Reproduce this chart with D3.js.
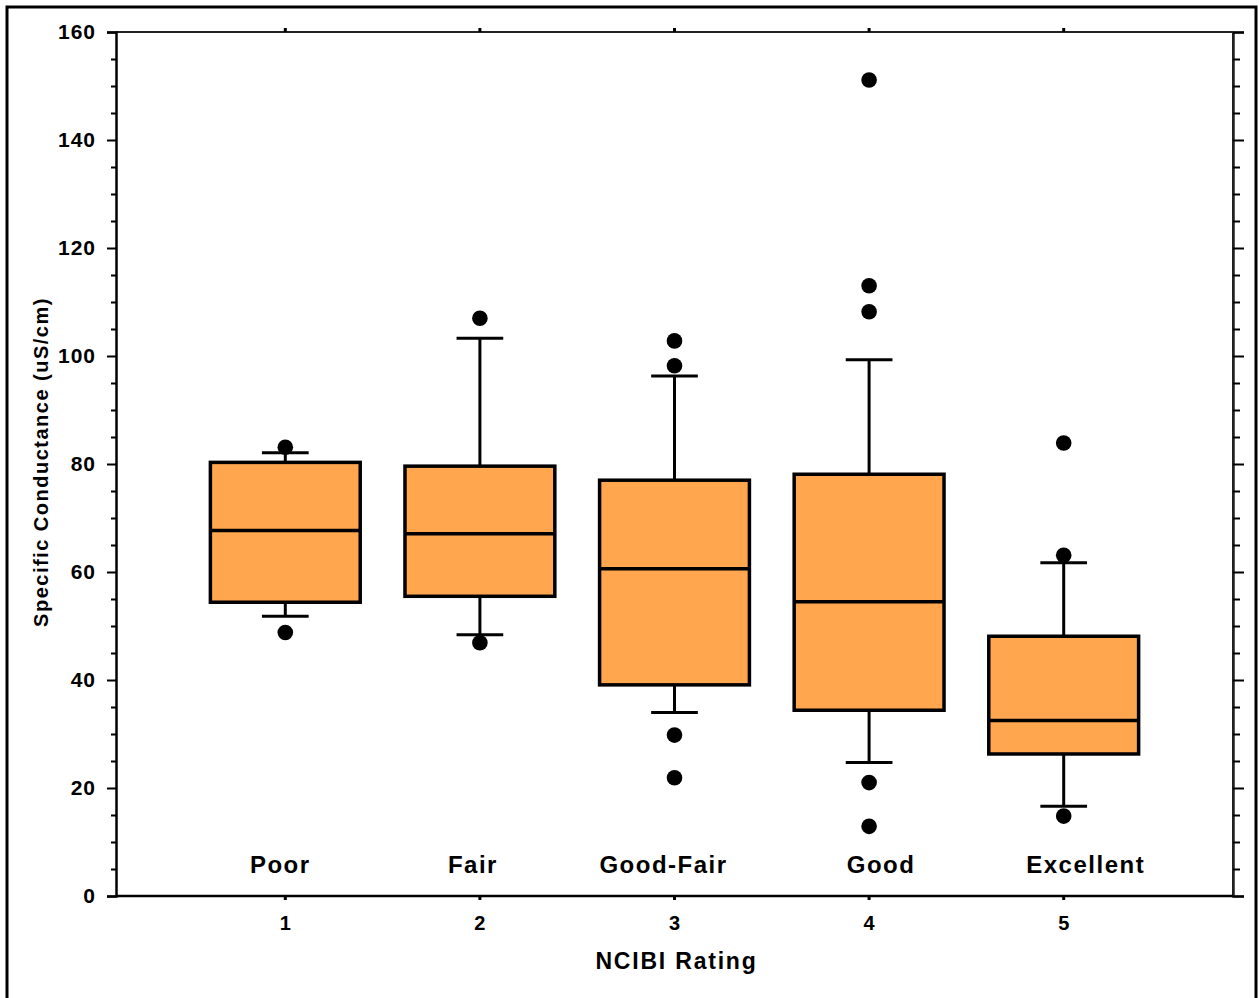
<!DOCTYPE html>
<html>
<head>
<meta charset="utf-8">
<script src="https://cdn.jsdelivr.net/npm/d3@7"></script>
<style>
  body { margin: 0; background: #fff; }
  text { font-family: "Liberation Sans", Arial, sans-serif; font-weight: bold; fill: #000; }
</style>
</head>
<body>
<div id="chart"></div>
<script>
// box plot summary per NCIBI rating
const ratings = [1, 2, 3, 4, 5];
const categories = ["Poor", "Fair", "Good-Fair", "Good", "Excellent"];
const whiskerLow = [51.8, 48.4, 34.0, 24.7, 16.6];
const q1 = [54.4, 55.5, 39.1, 34.4, 26.3];
const medians = [67.7, 67.1, 60.6, 54.5, 32.5];
const q3 = [80.3, 79.6, 77.0, 78.1, 48.1];
const whiskerHigh = [82.1, 103.3, 96.3, 99.3, 61.7];
const outliers = [
  [83.1, 48.8],
  [107.0, 46.9],
  [102.8, 98.2, 29.8, 21.9],
  [151.1, 113.0, 108.2, 21.0, 12.9],
  [83.9, 63.1, 14.8]
];
const yTicks = [0, 20, 40, 60, 80, 100, 120, 140, 160];
const yMinorTicks = d3.range(0, 161, 5).filter(d => d % 20 !== 0);
const xTickLabels = ["1", "2", "3", "4", "5"];

const W = 1259, H = 998;
const margin = {top: 32, right: 26, bottom: 102, left: 116};
const width = W - margin.left - margin.right,
      height = H - margin.top - margin.bottom;

const svg = d3.select("#chart").append("svg")
    .attr("width", W)
    .attr("height", H);

// outer frame
svg.append("rect")
    .attr("x", 7).attr("y", 7)
    .attr("width", 1249).attr("height", 1000)
    .attr("fill", "none")
    .attr("stroke", "#000")
    .attr("stroke-width", 3);

const g = svg.append("g")
    .attr("transform", "translate(" + margin.left + "," + margin.top + ")");

const x = d3.scaleLinear().domain([0.13, 5.87]).range([0, width]);
const y = d3.scaleLinear().domain([0, 160]).range([height, 0]);

// top & right frame lines
g.append("line").attr("x1", 0).attr("x2", width).attr("y1", 0).attr("y2", 0)
    .attr("stroke", "#222").attr("stroke-width", 2);
g.append("line").attr("x1", width).attr("x2", width).attr("y1", 0).attr("y2", height)
    .attr("stroke", "#222").attr("stroke-width", 2);

// left axis, major + minor
const yAxis = g.append("g")
    .call(d3.axisLeft(y).tickValues(yTicks).tickSize(9).tickPadding(11));
yAxis.selectAll("text")
    .style("font-size", "21px")
    .style("letter-spacing", "1px");
g.append("g")
    .call(d3.axisLeft(y).tickValues(yMinorTicks).tickSize(5).tickFormat(""))
    .select(".domain").remove();

// right axis (ticks pointing out)
const rAxis = g.append("g").attr("transform", "translate(" + width + ",0)");
rAxis.call(d3.axisRight(y).tickValues(yTicks).tickSize(11).tickFormat(""));
rAxis.append("g")
    .call(d3.axisRight(y).tickValues(yMinorTicks).tickSize(7).tickFormat(""))
    .select(".domain").remove();
rAxis.select(".domain").attr("stroke", "#222");

g.selectAll(".domain").attr("stroke-width", 2.5);
g.selectAll(".tick line").attr("stroke-width", 2);

// bottom axis line and small ticks
g.append("line").attr("x1", 0).attr("x2", width).attr("y1", height).attr("y2", height)
    .attr("stroke", "#000").attr("stroke-width", 2.5);
g.selectAll(".xtick-b").data(ratings).join("line")
    .attr("x1", d => x(d)).attr("x2", d => x(d))
    .attr("y1", height).attr("y2", height + 4)
    .attr("stroke", "#000").attr("stroke-width", 3);
g.selectAll(".xtick-t").data(ratings).join("line")
    .attr("x1", d => x(d)).attr("x2", d => x(d))
    .attr("y1", 0).attr("y2", -4)
    .attr("stroke", "#000").attr("stroke-width", 3);

g.selectAll(".xlabel").data(ratings).join("text")
    .attr("x", d => x(d))
    .attr("y", height + 34)
    .attr("text-anchor", "middle")
    .style("font-size", "20px")
    .text((d, i) => xTickLabels[i]);

// boxes
const boxW = x(1.385) - x(1);
const capW = x(1.12) - x(1);

const boxes = g.selectAll(".box").data(ratings).join("g").attr("class", "box");

boxes.append("line")
    .attr("x1", d => x(d)).attr("x2", d => x(d))
    .attr("y1", (d, i) => y(whiskerHigh[i])).attr("y2", (d, i) => y(q3[i]))
    .attr("stroke", "#000").attr("stroke-width", 3);
boxes.append("line")
    .attr("x1", d => x(d)).attr("x2", d => x(d))
    .attr("y1", (d, i) => y(q1[i])).attr("y2", (d, i) => y(whiskerLow[i]))
    .attr("stroke", "#000").attr("stroke-width", 3);
boxes.append("line")
    .attr("x1", d => x(d) - capW).attr("x2", d => x(d) + capW)
    .attr("y1", (d, i) => y(whiskerHigh[i])).attr("y2", (d, i) => y(whiskerHigh[i]))
    .attr("stroke", "#000").attr("stroke-width", 3);
boxes.append("line")
    .attr("x1", d => x(d) - capW).attr("x2", d => x(d) + capW)
    .attr("y1", (d, i) => y(whiskerLow[i])).attr("y2", (d, i) => y(whiskerLow[i]))
    .attr("stroke", "#000").attr("stroke-width", 3);

boxes.append("rect")
    .attr("x", d => x(d) - boxW)
    .attr("width", 2 * boxW)
    .attr("y", (d, i) => y(q3[i]))
    .attr("height", (d, i) => y(q1[i]) - y(q3[i]))
    .attr("fill", "#ffa64f")
    .attr("stroke", "#000")
    .attr("stroke-width", 3.5);

boxes.append("line")
    .attr("x1", d => x(d) - boxW).attr("x2", d => x(d) + boxW)
    .attr("y1", (d, i) => y(medians[i])).attr("y2", (d, i) => y(medians[i]))
    .attr("stroke", "#000").attr("stroke-width", 3.5);

// outlier dots
boxes.each(function(d, i) {
  d3.select(this).selectAll("circle").data(outliers[i]).join("circle")
      .attr("cx", x(d))
      .attr("cy", v => y(v))
      .attr("r", 7.8)
      .attr("fill", "#000");
});

// category names inside the plot
const labelNudge = [-5, -7, -11, 12, 22];
g.selectAll(".cat").data(ratings).join("text")
    .attr("x", (d, i) => x(d) + labelNudge[i])
    .attr("y", height - 23)
    .attr("text-anchor", "middle")
    .style("font-size", "24px")
    .style("letter-spacing", "1.5px")
    .text((d, i) => categories[i]);

// axis titles
svg.append("text")
    .attr("x", margin.left + x(3) + 2)
    .attr("y", 969)
    .attr("text-anchor", "middle")
    .style("font-size", "23px")
    .style("letter-spacing", "1.8px")
    .text("NCIBI Rating");

svg.append("text")
    .attr("transform", "translate(48,462) rotate(-90)")
    .attr("text-anchor", "middle")
    .style("font-size", "20px")
    .style("letter-spacing", "1.5px")
    .text("Specific Conductance (uS/cm)");
</script>
</body>
</html>
